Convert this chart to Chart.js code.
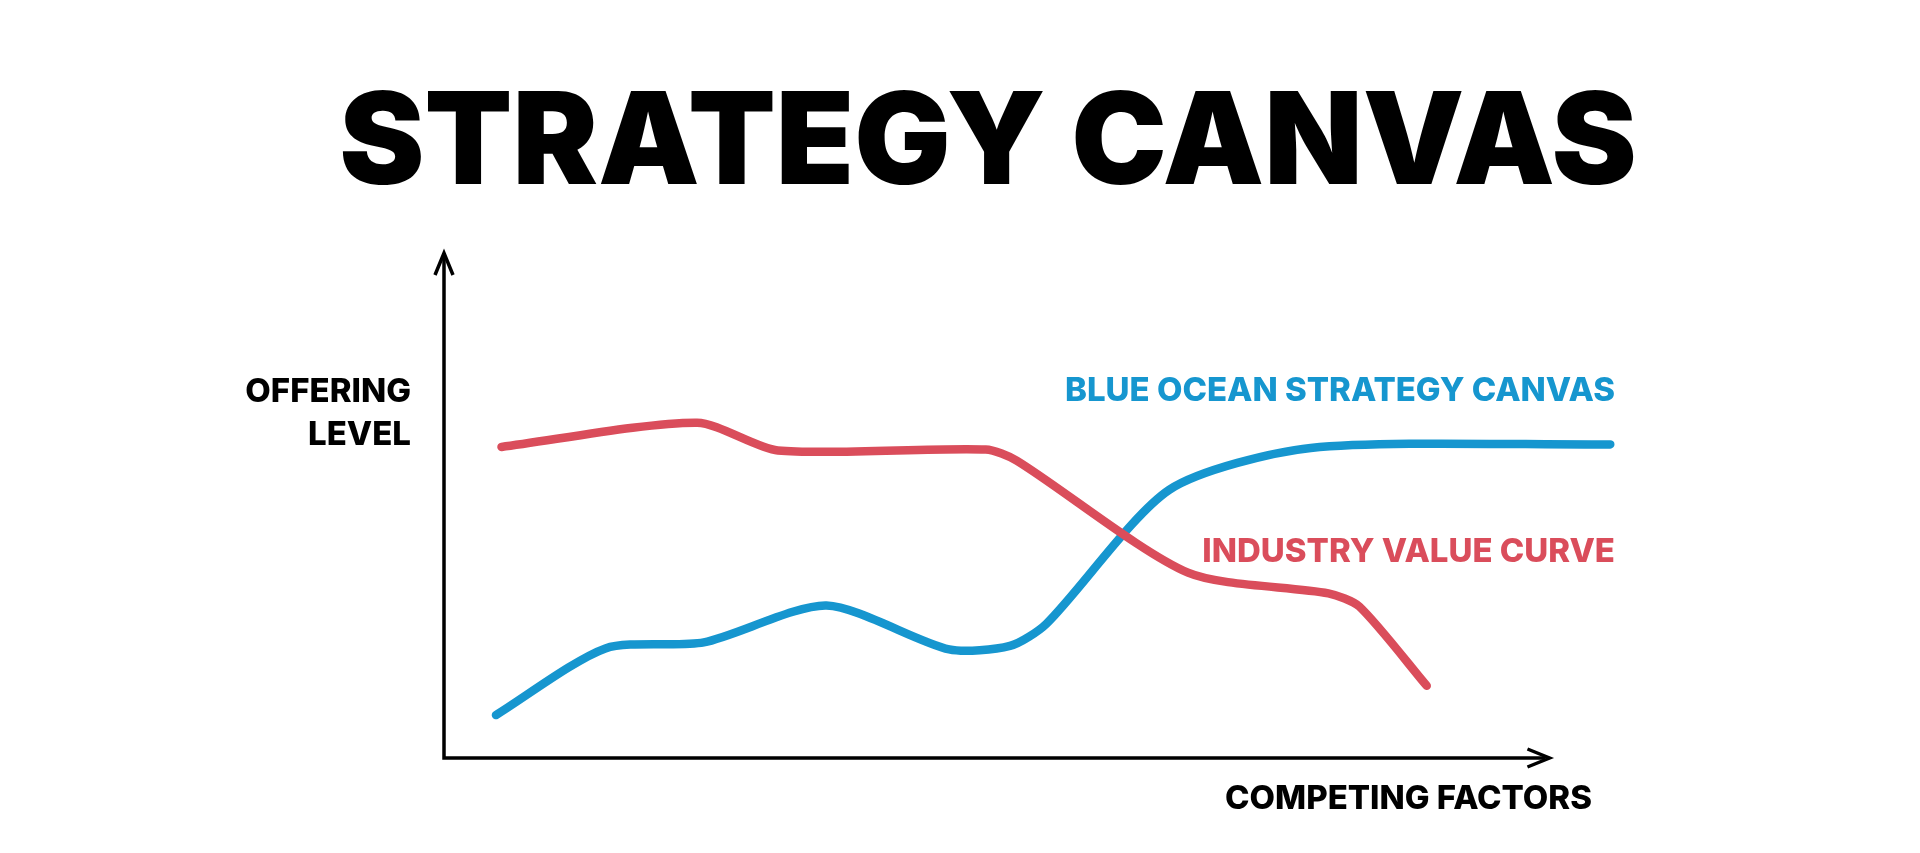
<!DOCTYPE html>
<html>
<head>
<meta charset="utf-8">
<script src="https://cdn.jsdelivr.net/npm/chart.js@4/dist/chart.umd.min.js"></script>
<style>
  html, body { margin: 0; padding: 0; background: #fff; }
  #wrap { width: 1920px; height: 853px; position: relative; }
</style>
</head>
<body>
<div id="wrap"><canvas id="chart" width="1920" height="853"></canvas></div>
<script>
// values: x = position along the factors axis (0-100 = arrow tip), y = offering level (0-100)
const blueX = [4.7, 14.6, 23.5, 34.6, 45.7, 51.2, 54.5, 65.6, 78.4, 105.5];
const blueY = [8.5, 21.7, 22.9, 30.2, 21.5, 22.2, 26.6, 53.1, 61.4, 62.1];
const redX = [5.2, 22.9, 30.2, 49.0, 51.8, 67.3, 80.0, 82.8, 88.9];
const redY = [61.6, 66.4, 60.9, 61.1, 58.9, 36.7, 32.6, 30.0, 14.3];

const BLUE = '#1696cf';
const RED = '#da4d5b';
const FONT = 'Inter, "Liberation Sans", sans-serif';

const toPoints = (xs, ys) => xs.map((x, i) => ({ x: x, y: ys[i] }));

// axes with arrows + all the labels
const decor = {
  id: 'decor',
  afterDraw(chart) {
    const c = chart.ctx;
    const sx = chart.scales.x, sy = chart.scales.y;
    const x0 = sx.getPixelForValue(0), x1 = sx.getPixelForValue(100);
    const y0 = sy.getPixelForValue(0), y1 = sy.getPixelForValue(100);
    c.save();
    c.strokeStyle = '#000';
    c.lineWidth = 3.5;
    c.beginPath();
    c.moveTo(x0, y1 + 4); c.lineTo(x0, y0); c.lineTo(x1 - 4, y0);
    c.stroke();
    // arrow heads
    c.lineWidth = 3.5;
    c.lineJoin = 'miter';
    c.beginPath();
    c.moveTo(x0 - 9, y1 + 22); c.lineTo(x0, y1); c.lineTo(x0 + 9, y1 + 22);
    c.moveTo(x1 - 22, y0 - 9); c.lineTo(x1, y0); c.lineTo(x1 - 22, y0 + 9);
    c.stroke();

    c.textBaseline = 'middle';
    c.fillStyle = '#000';
    c.textAlign = 'center';
    c.font = '900 128px ' + FONT;
    c.fillText('STRATEGY CANVAS', 988, 146);

    c.textAlign = 'right';
    c.font = '800 33px ' + FONT;
    c.fillText('OFFERING', 411, 392);
    c.fillText('LEVEL', 411, 435);
    c.fillText('COMPETING FACTORS', 1592, 799);
    c.fillStyle = BLUE;
    c.fillText('BLUE OCEAN STRATEGY CANVAS', 1615, 391);
    c.fillStyle = RED;
    c.fillText('INDUSTRY VALUE CURVE', 1615, 552);
    c.restore();
  }
};

new Chart(document.getElementById('chart'), {
  type: 'line',
  data: {
    datasets: [
      { label: 'Industry value curve', data: toPoints(redX, redY), borderColor: RED },
      { label: 'Blue ocean strategy canvas', data: toPoints(blueX, blueY), borderColor: BLUE }
    ]
  },
  options: {
    responsive: false,
    animation: false,
    layout: { padding: { left: 444, right: 260, top: 253, bottom: 95 } },
    elements: {
      line: { borderWidth: 8.5, tension: 0.25, borderCapStyle: 'round', borderJoinStyle: 'round', fill: false },
      point: { radius: 0 }
    },
    scales: {
      x: { type: 'linear', min: 0, max: 110, display: false },
      y: { min: 0, max: 100, display: false }
    },
    plugins: { legend: { display: false }, tooltip: { enabled: false } }
  },
  plugins: [decor]
});
</script>
</body>
</html>
